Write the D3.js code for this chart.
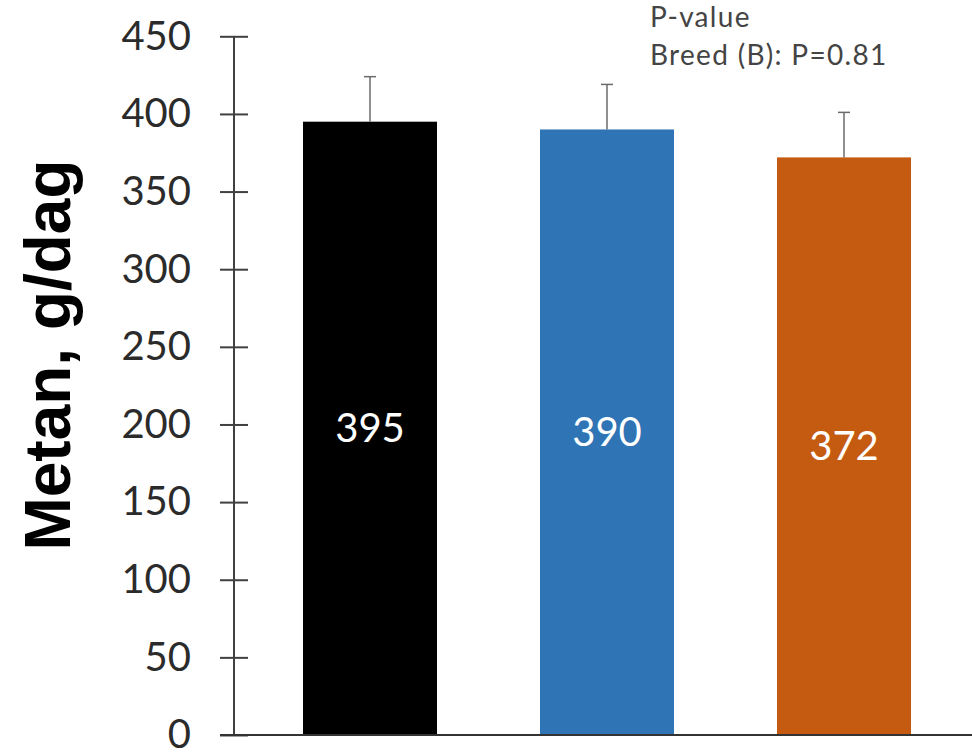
<!DOCTYPE html>
<html><head><meta charset="utf-8">
<script src="https://cdn.jsdelivr.net/npm/d3@7"></script>
<style>body{margin:0;background:#fff}</style>
</head><body>
<script>
const categories = ["A", "B", "C"];
const values = [395, 390, 372];
const errors = [29, 29, 29];
const colors = ["#000000", "#2f74b5", "#c55a11"];
const yTicks = [0, 50, 100, 150, 200, 250, 300, 350, 400, 450];
const yTitle = "Metan, g/dag";
const pTitle = "P-value";
const pText = "Breed (B): P=0.81";

const W = 972, H = 754;
const svg = d3.select("body").append("svg").attr("width", W).attr("height", H);
const axisX = 234;
const y = d3.scaleLinear().domain([0, 450]).range([735, 36.3]);
const x = d3.scaleBand().domain(categories).range([184.5, 1029.5]).paddingInner(0.4346).paddingOuter(0.5);

const font = "Lato, sans-serif";

// bars
svg.selectAll("rect.bar").data(values).join("rect")
  .attr("x", (d,i) => x(categories[i])).attr("width", x.bandwidth())
  .attr("y", d => y(d)).attr("height", d => y(0) - y(d))
  .attr("fill", (d,i) => colors[i]);

// error bars
values.forEach((v,i) => {
  const cx = x(categories[i]) + x.bandwidth()/2;
  svg.append("line").attr("x1", cx).attr("x2", cx).attr("y1", y(v)).attr("y2", y(v+errors[i]))
    .attr("stroke", "#6b6b6b").attr("stroke-width", 1.5);
  svg.append("line").attr("x1", cx-6).attr("x2", cx+6).attr("y1", y(v+errors[i])).attr("y2", y(v+errors[i]))
    .attr("stroke", "#6b6b6b").attr("stroke-width", 1.5);
});

// value labels
svg.selectAll("text.val").data(values).join("text")
  .attr("x", (d,i) => x(categories[i]) + x.bandwidth()/2)
  .attr("y", d => (y(d) + y(0))/2)
  .attr("dy", "0.35em").attr("text-anchor", "middle")
  .attr("fill", "#fff").attr("font-family", font).attr("font-size", 40)
  .text(d => d);

// y axis
const yAxis = d3.axisLeft(y).tickValues(yTicks).tickSize(14).tickPadding(29);
const gy = svg.append("g").attr("transform", `translate(${axisX},0)`).call(yAxis);
gy.select(".domain").attr("stroke", "#404040").attr("stroke-width", 2).attr("d", `M0,${y(450)}V${y(0)}`);
gy.selectAll(".tick line").attr("stroke", "#404040").attr("stroke-width", 2).attr("x1", 14);
gy.selectAll(".tick text").attr("font-family", font).attr("font-size", 40).attr("fill", "#2b2b2b");

// x axis
svg.append("line").attr("x1", 220).attr("x2", W).attr("y1", y(0)).attr("y2", y(0))
  .attr("stroke", "#333").attr("stroke-width", 2);

// y title
svg.append("text").attr("transform", `translate(70,${355}) rotate(-90)`)
  .attr("text-anchor", "middle").attr("font-family", "'Liberation Sans', Arial, sans-serif")
  .attr("font-weight", "bold").attr("font-size", 64).attr("fill", "#000").text(yTitle);

// p-value
svg.append("text").attr("x", 650).attr("y", 27).attr("font-family", font).attr("font-size", 28).attr("letter-spacing", 1.3).attr("fill", "#444").text(pTitle);
svg.append("text").attr("x", 650).attr("y", 65).attr("font-family", font).attr("font-size", 28).attr("letter-spacing", 1.3).attr("fill", "#444").text(pText);
</script>
</body></html>
